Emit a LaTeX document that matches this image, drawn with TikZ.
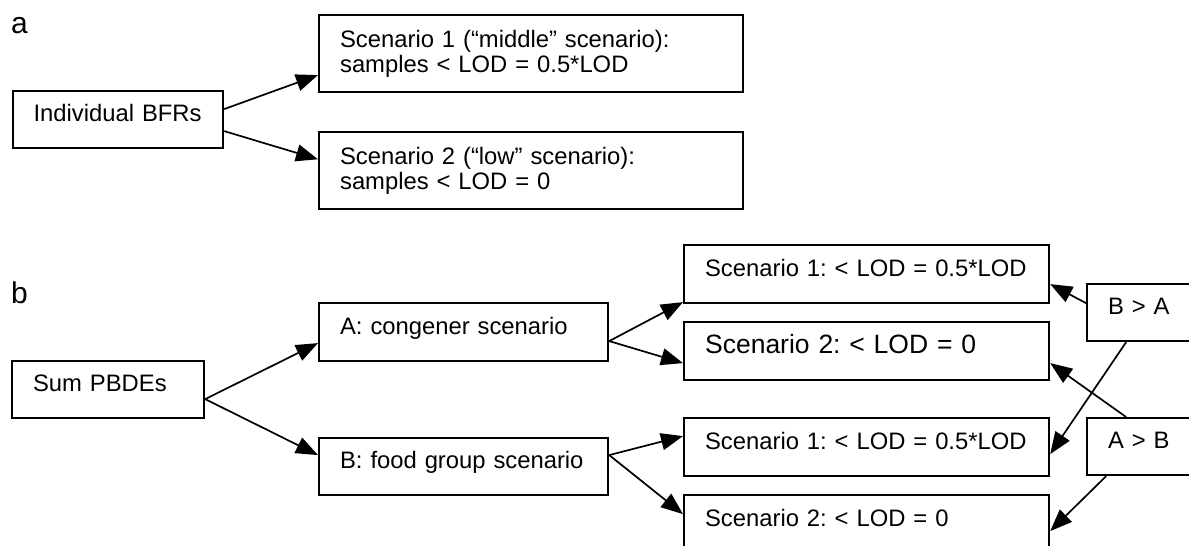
\documentclass[tikz,border=0pt]{standalone}
\usepackage{fontspec}
\setmainfont{Liberation Sans}
\usetikzlibrary{arrows.meta, positioning}

\tikzset{
    scen/.style={draw, line width=2.2pt, rectangle, anchor=north west,
        inner xsep=21pt, inner ysep=0pt, align=left, text width=#1},
    oneline/.style={text height=0.72em, text depth=0.30em},
    link/.style={line width=1.7pt, -{Triangle[length=22pt,width=17pt]}},
    panel/.style={font=\fontsize{30}{34}\selectfont, anchor=base west, inner sep=0pt}
}

\begin{document}
\frenchspacing
\begin{tikzpicture}[x=1pt, y=1pt, font=\fontsize{23.8}{25.5}\selectfont]
    \clip (0,0) rectangle (1189,-546);
    % panel a
        \node[panel] (pa) at (11,-34) {a};
        \node[scen=168.5pt,
              oneline,
              minimum height=57pt] (bfr) at (11.5,-90) {Individual~BFRs};
        \node[scen=382pt,
              minimum height=77pt] (sca1) at (318,-14)
              {Scenario 1 (“middle” scenario):\\samples < LOD = 0.5*LOD};
        \node[scen=382pt,
              below=38pt of sca1.south west,
              anchor=north west,
              minimum height=77pt] (sca2)
              {Scenario 2 (“low” scenario):\\samples < LOD = 0};

    % panel b
        \node[panel] (pb) at (11,-303) {b};
        \node[scen=150pt,
              oneline,
              minimum height=57pt] (sum) at (11,-360) {Sum PBDEs};
        \node[scen=247pt,
              oneline,
              minimum height=58pt] (conga) at (318,-302) {A: congener scenario};
        \node[scen=247pt,
              oneline,
              minimum height=57pt] (foodb) at (318,-437) {B: food group scenario};
        \node[scen=323pt,
              oneline,
              minimum height=58pt] (a1) at (683,-244) {Scenario 1: < LOD = 0.5*LOD};
        \node[scen=323pt,
              oneline,
              font=\fontsize{26.5}{30}\selectfont,
              minimum height=58pt] (a2) at (683,-321) {Scenario 2: < LOD = 0};
        \node[scen=323pt,
              oneline,
              minimum height=58pt] (b1) at (683,-417) {Scenario 1: < LOD = 0.5*LOD};
        \node[scen=323pt,
              oneline,
              minimum height=58pt] (b2) at (683,-494) {Scenario 2: < LOD = 0};
        \node[scen=72pt,
              oneline,
              minimum height=57pt] (ba) at (1086,-283) {B > A};
        \node[scen=72pt,
              oneline,
              minimum height=57pt] (ab) at (1086,-417) {A > B};

       \path[link]
            ([yshift=10.5pt]bfr.east) edge ([yshift=-21.5pt]sca1.west)
            ([yshift=-11.5pt]bfr.east) edge ([yshift=11.5pt]sca2.west)
            ([yshift=-9.5pt]sum.east) edge ([yshift=-11pt]conga.west)
            ([yshift=-9.5pt]sum.east) edge ([yshift=11.5pt]foodb.west)
            ([yshift=-9pt]conga.east) edge ([yshift=-28pt]a1.west)
            ([yshift=-9pt]conga.east) edge ([yshift=-12pt]a2.west)
            ([yshift=11.5pt]foodb.east) edge ([yshift=11pt]b1.west)
            ([yshift=11.5pt]foodb.east) edge ([yshift=10pt]b2.west)
            ([yshift=9.5pt]ba.west) edge ([yshift=-10pt]a1.east)
            ([xshift=-18pt]ba.south) edge ([yshift=-7pt]b1.east)
            ([xshift=-18pt]ab.north) edge ([yshift=-12pt]a2.east)
            ([xshift=-38pt]ab.south) edge ([yshift=-7pt]b2.east)
            ;
    \end{tikzpicture}
\end{document}
